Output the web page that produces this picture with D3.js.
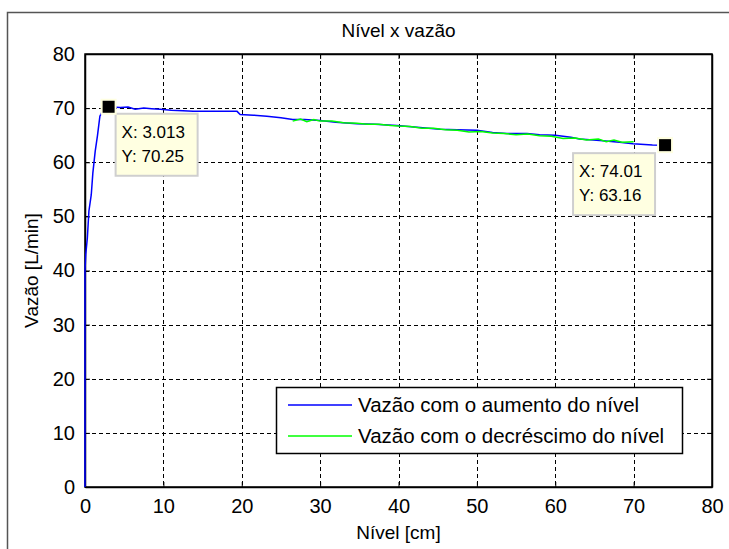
<!DOCTYPE html>
<meta charset="utf-8">
<style>
html, body { margin: 0; background: #fff; }
.chart { display: block; font-family: Arial, "Liberation Sans", sans-serif; }
.chart .axis path, .chart .axis line { stroke: #000; }
.chart .axis text { font-size: 20px; fill: #000; }
.chart .grid line { stroke: #000; stroke-dasharray: 4,3; }
.chart .tip text { font-size: 17px; fill: #000; }
</style>
<body>
<svg class="chart js-chart" width="729" height="549"></svg>
<script src="https://d3js.org/d3.v7.min.js"></script>
<script>
"use strict";

var xTicks = [0, 10, 20, 30, 40, 50, 60, 70, 80];
var yTicks = [0, 10, 20, 30, 40, 50, 60, 70, 80];

// Vazão com o aumento do nível
var upX = [0, 0, 0.1, 0.3, 0.5, 0.8, 1.0, 1.3, 1.6, 1.9, 2.4, 3.013, 4.5, 5.5, 6.4, 7.5, 8.5, 9.6, 11, 12.5,
  13.8, 16, 18, 19.4, 19.8, 21.5, 23.2, 25, 26.5, 28, 30, 32, 34.7, 37, 39.8, 42, 45.3, 47.5, 50, 52,
  53.8, 56.4, 58, 60, 62, 63.1, 65.7, 68.2, 69.9, 72.4, 74.01];
var upY = [0, 40, 43, 46, 51, 54, 58, 62, 65, 68.5, 70.0, 70.25, 70.1, 70.2, 69.8, 70.0, 69.9, 69.8, 69.6, 69.5,
  69.4, 69.4, 69.4, 69.4, 68.8, 68.7, 68.5, 68.2, 67.9, 67.9, 67.7, 67.4, 67.1, 67.0, 66.8, 66.5, 66.1, 66.0, 65.9, 65.5,
  65.3, 65.3, 65.1, 65.0, 64.6, 64.3, 64.0, 63.7, 63.4, 63.2, 63.16];

// Vazão com o decréscimo do nível
var downX = [26.5, 27.5, 28.3, 29.2, 30, 31.5, 33, 34.7, 36, 37.5, 39, 40, 41.5, 43, 44.5, 46, 47.5, 49,
  50.5, 52, 53.5, 55, 56.5, 58, 59.5, 61, 62.5, 64, 65.5, 66.5, 67.5, 68.5, 70];
var downY = [67.6, 68.0, 67.5, 67.9, 67.6, 67.6, 67.3, 67.2, 67.0, 67.0, 66.8, 66.7, 66.6, 66.3, 66.3, 66.0, 65.9, 65.6,
  65.7, 65.4, 65.3, 65.1, 65.2, 64.9, 64.8, 64.4, 64.5, 64.1, 64.3, 63.8, 64.1, 63.7, 63.8];

var seriesNames = ["Vazão com o aumento do nível", "Vazão com o decréscimo do nível"];
var seriesColors = ["#0000ff", "#00ff00"];

var tipX = [3.013, 74.01];
var tipY = [70.25, 63.16];

var margin = { top: 54, right: 17, bottom: 62, left: 85 };
var width = 729 - margin.left - margin.right;
var height = 549 - margin.top - margin.bottom;

var svg = d3.select(".js-chart");

// figure frame
svg.append("path")
  .attr("d", "M7.5,549V12.5H729")
  .attr("fill", "none")
  .attr("stroke", "#555")
  .attr("stroke-width", 1.5);

var g = svg.append("g")
  .attr("transform", "translate(" + margin.left + "," + margin.top + ")");

var x = d3.scaleLinear().domain([0, 80]).range([0, width]);
var y = d3.scaleLinear().domain([0, 80]).range([height, 0]);

// grid
var grid = g.append("g").attr("class", "grid");
grid.selectAll(".gx").data(xTicks.slice(1, -1)).enter().append("line")
  .attr("x1", function (d) { return Math.round(x(d)) + 0.5; })
  .attr("x2", function (d) { return Math.round(x(d)) + 0.5; })
  .attr("y1", 0).attr("y2", height);
grid.selectAll(".gy").data(yTicks.slice(1, -1)).enter().append("line")
  .attr("y1", function (d) { return Math.round(y(d)) + 0.5; })
  .attr("y2", function (d) { return Math.round(y(d)) + 0.5; })
  .attr("x1", 0).attr("x2", width);

// axes, ticks inside
g.append("g").attr("class", "axis")
  .attr("transform", "translate(0," + height + ")")
  .call(d3.axisBottom(x).tickValues(xTicks).tickSizeInner(-5).tickSizeOuter(0).tickPadding(12));
g.append("g").attr("class", "axis")
  .call(d3.axisLeft(y).tickValues(yTicks).tickSizeInner(-5).tickSizeOuter(0).tickPadding(10));
g.append("g").attr("class", "axis")
  .call(d3.axisTop(x).tickValues(xTicks).tickSizeInner(-5).tickSizeOuter(0).tickFormat(""));
g.append("g").attr("class", "axis")
  .attr("transform", "translate(" + width + ",0)")
  .call(d3.axisRight(y).tickValues(yTicks).tickSizeInner(-5).tickSizeOuter(0).tickFormat(""));
g.selectAll(".axis path").attr("stroke-width", 1.5);

g.append("rect")
  .attr("width", width).attr("height", height)
  .attr("fill", "none").attr("stroke", "#000").attr("stroke-width", 1.5);

// lines
var line = d3.line()
  .x(function (d) { return x(d[0]); })
  .y(function (d) { return y(d[1]); });

var series = [d3.zip(upX, upY), d3.zip(downX, downY)];
g.selectAll(".series").data(series).enter().append("path")
  .attr("class", "series")
  .attr("d", line)
  .attr("fill", "none")
  .attr("stroke", function (d, i) { return seriesColors[i]; })
  .attr("stroke-width", 1.5);

// data tips
var tips = d3.zip(tipX, tipY);
var tip = g.selectAll(".tip").data(tips).enter().append("g")
  .attr("class", "tip")
  .attr("transform", function (d) { return "translate(" + x(d[0]) + "," + y(d[1]) + ")"; });

tip.append("rect")
  .attr("x", function (d, i) { return i === 0 ? 7 : -92; })
  .attr("y", function (d, i) { return i === 0 ? 7 : 8; })
  .attr("width", 82).attr("height", 62)
  .attr("fill", "#ffffe1")
  .attr("stroke", "#cfcfcf")
  .attr("stroke-width", 2);

tip.append("text")
  .attr("x", function (d, i) { return i === 0 ? 13 : -86; })
  .attr("y", function (d, i) { return i === 0 ? 31 : 32; })
  .text(function (d) { return "X: " + d[0]; });
tip.append("text")
  .attr("x", function (d, i) { return i === 0 ? 13 : -86; })
  .attr("y", function (d, i) { return i === 0 ? 55 : 56; })
  .text(function (d) { return "Y: " + d[1]; });

tip.append("rect")
  .attr("x", -7).attr("y", -7).attr("width", 14).attr("height", 14)
  .attr("fill", "#000")
  .attr("stroke", "#ffffe0")
  .attr("stroke-width", 2);

// legend
var legend = svg.append("g").attr("transform", "translate(276,387)");
legend.append("rect")
  .attr("x", 0.5).attr("y", 0.5).attr("width", 406).attr("height", 66)
  .attr("fill", "#fff").attr("stroke", "#000").attr("stroke-width", 1.5);
var item = legend.selectAll(".item").data(seriesNames).enter().append("g")
  .attr("transform", function (d, i) { return "translate(0," + (18 + i * 31) + ")"; });
item.append("line")
  .attr("x1", 12).attr("x2", 76)
  .attr("stroke", function (d, i) { return seriesColors[i]; })
  .attr("stroke-width", 1.5);
item.append("text")
  .attr("x", 82).attr("dy", "0.36em")
  .attr("font-size", "20.5px")
  .text(function (d) { return d; });

// titles
svg.append("text")
  .attr("x", margin.left + width / 2).attr("y", 37)
  .attr("text-anchor", "middle").attr("font-size", "19px")
  .text("Nível x vazão");
svg.append("text")
  .attr("x", margin.left + width / 2).attr("y", 539)
  .attr("text-anchor", "middle").attr("font-size", "19px")
  .text("Nível [cm]");
svg.append("text")
  .attr("transform", "translate(38," + (margin.top + height / 2) + ") rotate(-90)")
  .attr("text-anchor", "middle").attr("font-size", "19px")
  .text("Vazão [L/min]");
</script>
</body>
